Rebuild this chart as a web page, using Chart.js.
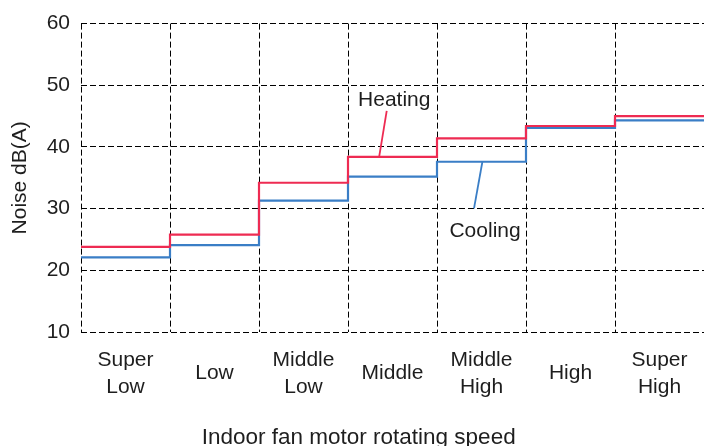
<!DOCTYPE html>
<html><head><meta charset="utf-8">
<script src="https://cdn.jsdelivr.net/npm/chart.js@4"></script>
<style>html,body{margin:0;padding:0;background:#fff;overflow:hidden}</style>
</head><body>
<canvas id="c" width="704" height="446"></canvas>
<script>
// ---- data ----
const categories = [['Super','Low'],'Low',['Middle','Low'],'Middle',['Middle','High'],'High',['Super','High']];
const heating = [23.8, 25.8, 34.2, 38.4, 41.4, 43.4, 45.0];
const cooling = [22.1, 24.1, 31.3, 35.2, 37.6, 43.1, 44.3];
const yTicks = [10, 20, 30, 40, 50, 60];
const xTitle = 'Indoor fan motor rotating speed';
const yTitle = 'Noise dB(A)';

// ---- style ----
const FONT = '"Liberation Sans", Arial, sans-serif';
const TEXT = '#1e1e1e';
const HEAT = '#EE2B52';
const COOL = '#3A7EC6';
const DASH = [6, 3];

function steps(vals) {
  const pts = vals.map((v, i) => ({x: i, y: v}));
  pts.push({x: vals.length, y: vals[vals.length - 1]});
  return pts;
}

const notes = [
  {text: 'Heating', color: HEAT, lx: 3.52, ly: 47.5, from: [3.35, heating[3]], to: [3.435, 45.85]},
  {text: 'Cooling', color: COOL, lx: 4.54, ly: 26.35, from: [4.51, cooling[4]], to: [4.416, 30.03]}
];

const annotate = {
  id: 'annotate',
  afterDatasetsDraw(chart) {
    const {ctx} = chart;
    const xs = chart.scales.x, ys = chart.scales.y;
    ctx.save();
    notes.forEach(n => {
      ctx.strokeStyle = n.color;
      ctx.lineWidth = 1.8;
      ctx.beginPath();
      ctx.moveTo(xs.getPixelForValue(n.from[0]), ys.getPixelForValue(n.from[1]));
      ctx.lineTo(xs.getPixelForValue(n.to[0]), ys.getPixelForValue(n.to[1]));
      ctx.stroke();
      ctx.fillStyle = TEXT;
      ctx.font = '21px ' + FONT;
      ctx.textAlign = 'center';
      ctx.textBaseline = 'middle';
      ctx.fillText(n.text, xs.getPixelForValue(n.lx), ys.getPixelForValue(n.ly));
    });
    ctx.font = '22.5px ' + FONT;
    ctx.textAlign = 'center';
    ctx.textBaseline = 'middle';
    ctx.fillStyle = TEXT;
    ctx.fillText(xTitle, xs.getPixelForValue(3.12), chart.height - 8);
    ctx.restore();
  }
};

new Chart(document.getElementById('c'), {
  type: 'line',
  data: {
    datasets: [
      {label: 'Heating', data: steps(heating), borderColor: HEAT, borderWidth: 2.2, stepped: 'before', pointRadius: 0, fill: false},
      {label: 'Cooling', data: steps(cooling), borderColor: COOL, borderWidth: 2.2, stepped: 'before', pointRadius: 0, fill: false}
    ]
  },
  options: {
    responsive: false,
    devicePixelRatio: 1,
    animation: false,
    layout: {padding: {top: 20, left: 0, right: 0, bottom: 0}},
    plugins: {legend: {display: false}, tooltip: {enabled: false}},
    scales: {
      x: {
        type: 'linear', min: 0, max: categories.length,
        afterBuildTicks: s => { const t = []; for (let i = 0; i <= categories.length * 2; i++) t.push({value: i / 2}); s.ticks = t; },
        afterFit: s => { s.height = 114; s.paddingLeft = 0; s.paddingRight = 0; },
        grid: {
          color: c => (c.tick && c.tick.value % 1 === 0) ? '#000' : 'rgba(0,0,0,0)',
          lineWidth: 1, drawTicks: false
        },
        border: {display: false, dash: DASH},
        ticks: {
          autoSkip: false, maxRotation: 0, minRotation: 0, padding: 28,
          crossAlign: 'center', color: TEXT,
          font: {family: FONT, size: 21, lineHeight: 1.3},
          callback: v => (v % 1 !== 0) ? categories[Math.floor(v)] : ''
        },
        title: {display: false}
      },
      y: {
        type: 'linear', min: yTicks[0], max: yTicks[yTicks.length - 1],
        afterBuildTicks: s => { s.ticks = yTicks.map(v => ({value: v})); },
        afterFit: s => { s.width = 81; },
        grid: {color: '#000', lineWidth: 1, drawTicks: false},
        border: {display: false, dash: DASH},
        ticks: {padding: 11, color: TEXT, font: {family: FONT, size: 21}},
        title: {display: true, text: yTitle, color: TEXT, font: {family: FONT, size: 21}, padding: {top: 8, bottom: 0}}
      }
    }
  },
  plugins: [annotate]
});
</script>
</body></html>
